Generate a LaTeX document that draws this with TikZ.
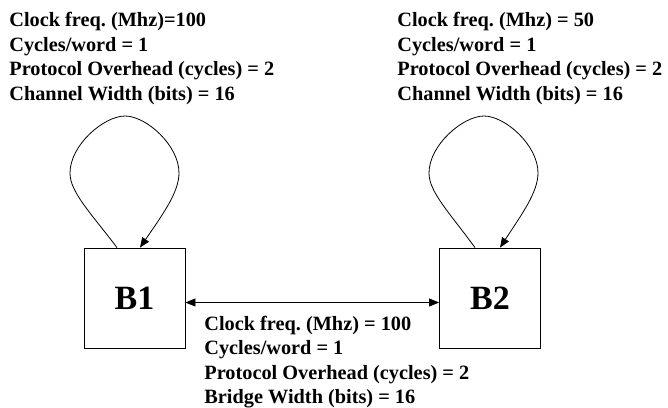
\documentclass[tikz,border=0pt]{standalone}
\usepackage{fontspec}
\setmainfont{Liberation Serif}
\frenchspacing
\usetikzlibrary{arrows.meta,calc}
\begin{document}
\begin{tikzpicture}[x=1pt,y=-1pt,
  line width=0.8pt,
  tip/.style={-{Triangle[length=10pt,width=8pt]}},
  bustip/.style={{Triangle[length=10pt,width=8pt]}-{Triangle[length=10pt,width=8pt]}},
  busbox/.style={draw,minimum width=101pt,minimum height=100pt,inner sep=0pt,
    font=\fontsize{34}{34}\selectfont\bfseries},
  params/.style={anchor=north west,inner sep=0pt,align=left,
    font=\fontsize{20.3}{24.5}\selectfont\bfseries\frenchspacing}]
\useasboundingbox (0,0) rectangle (668,407);

% parameter blocks
\node[params] (p1) at (9,12) {Clock freq. (Mhz)=100\\Cycles/word = 1\\Protocol Overhead (cycles) = 2\\Channel Width (bits) = 16};
\node[params] (p2) at (397,12) {Clock freq. (Mhz) = 50\\Cycles/word = 1\\Protocol Overhead (cycles) = 2\\Channel Width (bits) = 16};
\node[params] (p3) at (204,315.5) {Clock freq. (Mhz) = 100\\Cycles/word = 1\\Protocol Overhead (cycles) = 2\\Bridge Width (bits) = 16};

% buses
\node[busbox] (B1) at (134.5,298) {B1};
\node[busbox] (B2) at (490,298) {B2};

% self loops
\coordinate (l1s) at ($(B1.north)+(-17.5,0)$);
\coordinate (l1e) at ($(B1.north)+(5.5,0)$);
\draw[tip] (l1s) .. controls (90,212) and (70,192) .. (70,173)
  .. controls (70,145) and (104,116) .. (125,116)
  .. controls (146,116) and (179,145) .. (179,173)
  .. controls (179,192) and (163,214) .. (l1e);

\coordinate (l2s) at ($(B2.north)+(-15,0)$);
\coordinate (l2e) at ($(B2.north)+(10,0)$);
\draw[tip] (l2s) .. controls (449,212) and (429,192) .. (429,173)
  .. controls (429,145) and (463,116) .. (484,116)
  .. controls (505,116) and (538,145) .. (538,173)
  .. controls (538,192) and (522,214) .. (l2e);

% bridge
\draw[bustip] ([yshift=-4.5pt]B1.east) -- ([yshift=-4.5pt]B2.west);
\end{tikzpicture}
\end{document}
